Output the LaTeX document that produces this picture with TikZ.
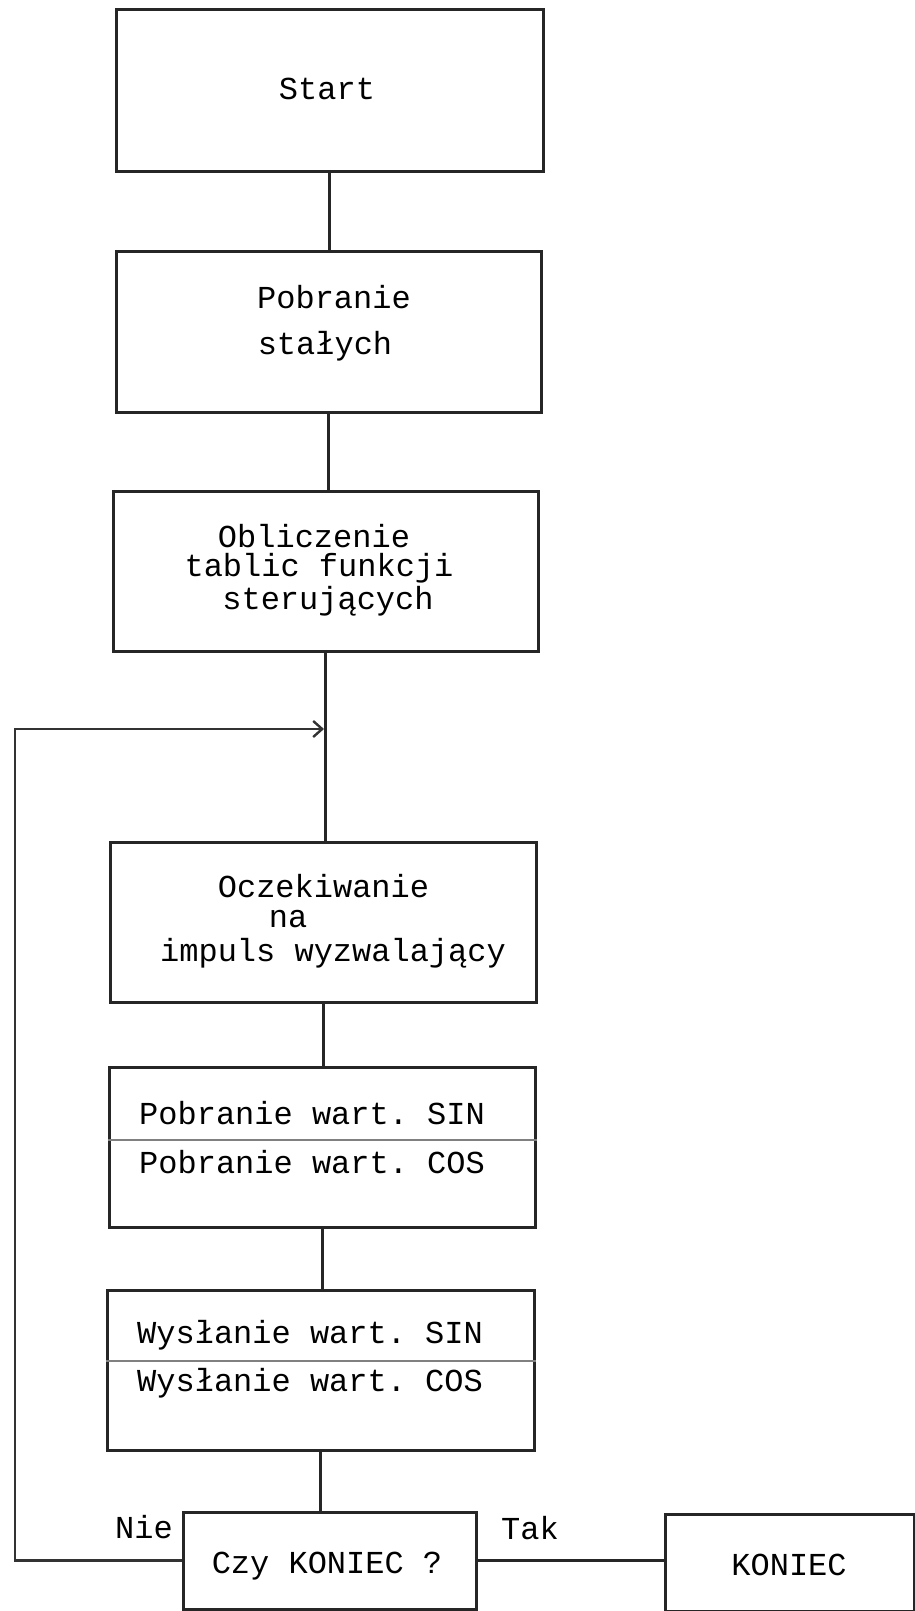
\documentclass[tikz,border=0pt]{standalone}
\usepackage{fontspec}
\setmonofont{Liberation Mono}
\usetikzlibrary{arrows.meta}
\tikzset{
	blok/.style={draw=black!85, line width=3pt, rectangle, inner sep=0pt},
	napis/.style={font=\ttfamily\fontsize{32}{34}\selectfont, inner sep=0pt},
	podzial/.style={draw=black!50, line width=1.8pt},
	linia/.style={draw=black!85, line width=3pt},
	petla/.style={draw=black!80, line width=2.6pt}
}

\begin{document}
\begin{tikzpicture}[x=1pt, y=-1pt]
		%%%%% START %%%%%
		\useasboundingbox (0,0) rectangle (915,1611);
		
		\node[blok, minimum width=427pt, minimum height=161pt] (start) at (329.5, 90.5) {};
		\node[blok, minimum width=425pt, minimum height=161pt] (stale) at (328.5, 331.5) {};
		\node[blok, minimum width=425pt, minimum height=160pt] (oblicz) at (325.5, 571) {};
		\node[blok, minimum width=426pt, minimum height=160pt] (oczek) at (323, 922) {};
		\node[blok, minimum width=426pt, minimum height=160pt] (pobwart) at (322, 1147) {};
		\node[blok, minimum width=427pt, minimum height=160pt] (wysl) at (320.5, 1370) {};
		\node[blok, minimum width=293pt, minimum height=97pt] (czy) at (329.5, 1560.5) {};
		\node[blok, minimum width=249pt, minimum height=97pt] (koniec) at (789.5, 1563) {};
		
		\draw[podzial] (pobwart.west |- 0,1140) -- (pobwart.east |- 0,1140);
		\draw[podzial] (wysl.west |- 0,1361) -- (wysl.east |- 0,1361);
		
		\node[napis] (tstart) at (327, 89) {Start};
		\node[napis] (tstale1) at (334, 297) {Pobranie};
		\node[napis] (tstale2) at (325, 346) {stałych};
		\node[napis] (toblicz1) at (314, 536) {Obliczenie};
		\node[napis] (toblicz2) at (319, 568) {tablic funkcji};
		\node[napis] (toblicz3) at (328, 601) {sterujących};
		\node[napis] (toczek1) at (323.5, 886) {Oczekiwanie};
		\node[napis] (toczek2) at (288, 919) {na};
		\node[napis] (toczek3) at (333, 953) {impuls wyzwalający};
		\node[napis, anchor=west] (tsin) at (139, 1113) {Pobranie wart. SIN};
		\node[napis, anchor=west] (tcos) at (139, 1162) {Pobranie wart. COS};
		\node[napis, anchor=west] (twsin) at (137, 1335) {Wysłanie wart. SIN};
		\node[napis, anchor=west] (twcos) at (137, 1383) {Wysłanie wart. COS};
		\node[napis] (tczy) at (327, 1566) {Czy KONIEC ?};
		\node[napis] (tkoniec) at (789, 1565) {KONIEC};
		\node[napis] (nie) at (144, 1527) {Nie};
		\node[napis] (tak) at (530, 1528) {Tak};
		
		\coordinate (wejscie) at (324, 729);
		
		\draw[linia] (start.south) -- (start.south |- stale.north);
		\draw[linia] (stale.south) -- (stale.south |- oblicz.north);
		\draw[linia] (oblicz.south) -- (oblicz.south |- oczek.north);
		\draw[linia] (oczek.south) -- (oczek.south |- pobwart.north);
		\draw[linia] (pobwart.south) -- (pobwart.south |- wysl.north);
		\draw[linia] (wysl.south) -- (wysl.south |- czy.north);
		\draw[linia] (czy.east) -- (koniec.west |- czy.east);
		
		\draw[petla, -{Straight Barb[length=9pt, width=16pt, line width=2.4pt]}] (czy.west) -- (15, 1560.5) |- (wejscie);
		
		%%%%% END %%%%%
\end{tikzpicture}
\end{document}
